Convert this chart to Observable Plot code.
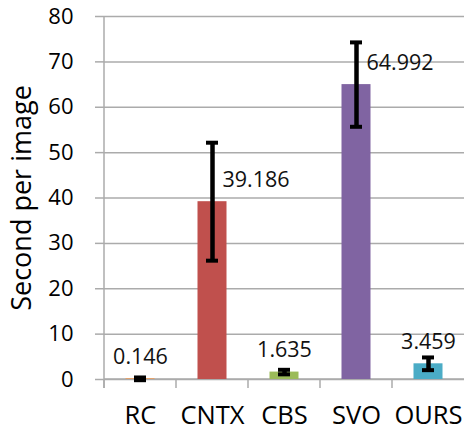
<!DOCTYPE html>
<html>
<head>
<meta charset="utf-8">
<script src="https://cdn.jsdelivr.net/npm/d3@7"></script>
<script src="https://cdn.jsdelivr.net/npm/@observablehq/plot@0.6"></script>
<style>
  html, body { margin: 0; padding: 0; background: #fff; }
  #chart svg { display: block; }
</style>
</head>
<body>
<div id="chart"></div>
<script>
const methods = ["RC", "CNTX", "CBS", "SVO", "OURS"];
const times = [0.146, 39.186, 1.635, 64.992, 3.459];
const errors = [0.3, 13.0, 0.5, 9.3, 1.4];
const valueLabels = ["0.146", "39.186", "1.635", "64.992", "3.459"];
const barColors = ["#F79646", "#C0504D", "#9BBB59", "#8064A2", "#4BACC6"];
const yTicks = [0, 10, 20, 30, 40, 50, 60, 70, 80];
const yTitle = "Second per image";

const data = methods.map((m, i) => ({
  method: m,
  time: times[i],
  lo: times[i] - errors[i],
  hi: times[i] + errors[i],
  err: errors[i],
  label: valueLabels[i]
}));

const grid = "#ababab";

// axis lines and between-category ticks drawn with the plot's own scales
function axisLines(index, scales, values, dims) {
  const g = d3.create("svg:g");
  const x = scales.x, y = scales.y;
  const x0 = dims.marginLeft;
  const x1 = dims.width - dims.marginRight;
  const y0 = y(0);
  g.append("line").attr("x1", x0).attr("x2", x0).attr("y1", y(80)).attr("y2", y0 + 9)
    .attr("stroke", grid).attr("stroke-width", 1.5);
  g.append("line").attr("x1", x0).attr("x2", x1).attr("y1", y0).attr("y2", y0)
    .attr("stroke", grid).attr("stroke-width", 1.5);
  methods.forEach(m => {
    const xx = x(m);
    g.append("line").attr("x1", xx).attr("x2", xx).attr("y1", y0).attr("y2", y0 + 9)
      .attr("stroke", grid).attr("stroke-width", 1.5);
  });
  return g.node();
}

const chart = Plot.plot({
  width: 464,
  height: 432,
  marginLeft: 104,
  marginRight: 0,
  marginTop: 16,
  marginBottom: 53,
  style: { fontFamily: "'Open Sans', sans-serif", fontSize: "22px", color: "#000", background: "#fff" },
  x: { domain: methods, padding: 0, label: null },
  y: { domain: [0, 80], label: null },
  color: { domain: methods, range: barColors },
  marks: [
    Plot.gridY(yTicks, { stroke: grid, strokeOpacity: 1, strokeWidth: 1.5 }),
    Plot.axisY(yTicks, { tickSize: 9, tickPadding: 22, fontSize: 22, stroke: grid, strokeWidth: 1.5, label: null }),
    Plot.axisX({ tickSize: 0, tickPadding: 26, fontSize: 25.5, label: null }),
    axisLines,
    Plot.barY(data, { x: "method", y: "time", fill: "method", insetLeft: 21.5, insetRight: 21.5 }),
    Plot.ruleX(data, { x: "method", y1: "lo", y2: "hi", stroke: "#000", strokeWidth: 4.5 }),
    Plot.tickY(data, { x: "method", y: "lo", stroke: "#000", strokeWidth: 4, insetLeft: 30, insetRight: 30 }),
    Plot.tickY(data, { x: "method", y: "hi", stroke: "#000", strokeWidth: 4, insetLeft: 30, insetRight: 30 }),
    Plot.text(data.filter(d => d.err <= 5), { x: "method", y: "time", text: "label", dy: -21.5, fontSize: 21.5, fill: "#111", textAnchor: "middle", lineAnchor: "middle" }),
    Plot.text(data.filter(d => d.err > 5), { x: "method", y: "time", text: "label", dy: -21.5, dx: 10, fontSize: 21.5, fill: "#111", textAnchor: "start", lineAnchor: "middle" }),
    Plot.text([yTitle], { frameAnchor: "left", dx: -82, rotate: -90, fontSize: 27, fill: "#000", textAnchor: "middle", lineAnchor: "middle" })
  ]
});

document.getElementById("chart").appendChild(chart);
</script>
</body>
</html>
